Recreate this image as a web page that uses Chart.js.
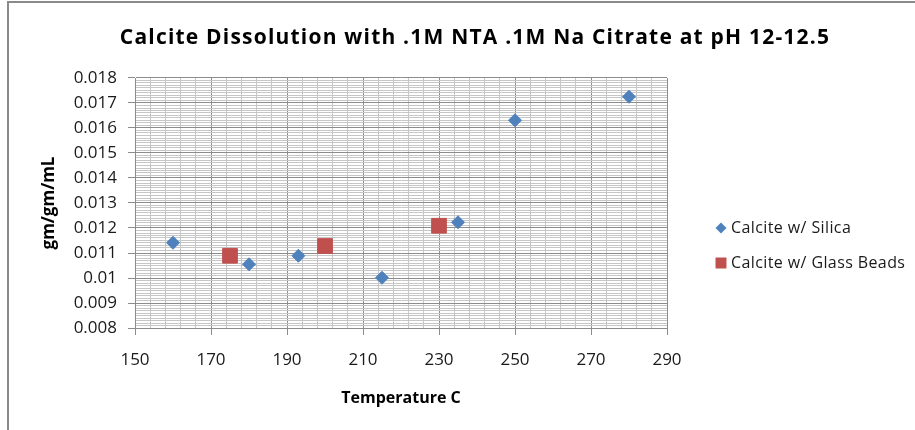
<!DOCTYPE html>
<html>
<head>
<meta charset="utf-8">
<script src="https://cdn.jsdelivr.net/npm/chart.js@4/dist/chart.umd.min.js"></script>
<style>
  html, body { margin: 0; padding: 0; background: #ffffff; }
  #wrap { width: 915px; height: 430px; position: relative; }
</style>
</head>
<body>
<div id="wrap"><canvas id="c" width="915" height="430"></canvas></div>
<script>
// ---- data ----
const chartTitle = 'Calcite Dissolution with .1M NTA .1M Na Citrate at pH 12-12.5';
const xAxisTitle = 'Temperature C';
const yAxisTitle = 'gm/gm/mL';
const seriesNames = ['Calcite w/ Silica', 'Calcite w/ Glass Beads'];
const silicaTemp = [160, 180, 193, 215, 235, 250, 280];
const silicaValue = [0.01141, 0.01055, 0.01089, 0.01001, 0.01223, 0.01631, 0.01725];
const beadsTemp = [175, 200, 230];
const beadsValue = [0.01089, 0.01128, 0.01209];
const xTickLabels = ['150', '170', '190', '210', '230', '250', '270', '290'];
const yTickLabels = ['0.008', '0.009', '0.01', '0.011', '0.012', '0.013', '0.014', '0.015', '0.016', '0.017', '0.018'];
const xMajorStep = 20, xMinorPerMajor = 5;
const yMajorStep = 0.001, yMinorPerMajor = 10;

const blue = '#4F81BD';
const red = '#C0504D';
const majorGrid = '#8c8c8c';
const minorGrid = '#c6c6c6';
const FONT = "'Open Sans', 'DejaVu Sans', sans-serif";

function buildTicks(scale, labels, majorStep, perMajor) {
  const start = parseFloat(labels[0]);
  const ticks = [];
  const n = (labels.length - 1) * perMajor;
  for (let i = 0; i <= n; i++) {
    const v = start + (i * majorStep) / perMajor;
    const isMajor = i % perMajor === 0;
    ticks.push({ value: v, major: isMajor, labelIndex: isMajor ? i / perMajor : -1 });
  }
  scale.ticks = ticks;
}

const framePlugin = {
  id: 'frameTitleLegend',
  beforeDraw(chart) {
    const ctx = chart.ctx;
    ctx.save();
    ctx.fillStyle = '#ffffff';
    ctx.fillRect(0, 0, chart.width, chart.height);
    ctx.fillStyle = '#8a8a8a';
    ctx.fillRect(8, 1, chart.width - 8, 2);
    ctx.fillRect(7, 1, 2, chart.height - 1);
    ctx.restore();
  },
  afterDraw(chart) {
    const ctx = chart.ctx;
    ctx.save();
    // title
    ctx.fillStyle = '#000000';
    ctx.font = "bold 21px " + FONT;
    if ('letterSpacing' in ctx) ctx.letterSpacing = '1.2px';
    ctx.textAlign = 'center';
    ctx.textBaseline = 'alphabetic';
    ctx.fillText(chartTitle, 475, 44);
    // legend
    ctx.font = "16px " + FONT;
    if ('letterSpacing' in ctx) ctx.letterSpacing = '0.4px';
    ctx.textAlign = 'left';
    ctx.textBaseline = 'middle';
    const items = [
      { name: seriesNames[0], color: blue, shape: 'diamond', y: 228 },
      { name: seriesNames[1], color: red, shape: 'square', y: 263 }
    ];
    items.forEach(it => {
      ctx.fillStyle = it.color;
      ctx.beginPath();
      if (it.shape === 'diamond') {
        ctx.moveTo(721, it.y - 5.5);
        ctx.lineTo(726.5, it.y);
        ctx.lineTo(721, it.y + 5.5);
        ctx.lineTo(715.5, it.y);
        ctx.closePath();
      } else {
        ctx.rect(715.5, it.y - 5.5, 11, 11);
      }
      ctx.fill();
      ctx.fillStyle = '#1a1a1a';
      ctx.fillText(it.name, 731, it.y);
    });
    ctx.restore();
  }
};

new Chart(document.getElementById('c'), {
  type: 'scatter',
  data: {
    datasets: [
      {
        label: seriesNames[0],
        data: silicaTemp.map((t, i) => ({ x: t, y: silicaValue[i] })),
        pointStyle: 'rectRot',
        pointRadius: 6.5,
        pointHoverRadius: 6.5,
        backgroundColor: blue,
        borderColor: blue,
        borderWidth: 1
      },
      {
        label: seriesNames[1],
        data: beadsTemp.map((t, i) => ({ x: t, y: beadsValue[i] })),
        pointStyle: 'rect',
        pointRadius: 10.4,
        pointHoverRadius: 10.4,
        backgroundColor: red,
        borderColor: red,
        borderWidth: 1
      }
    ]
  },
  options: {
    responsive: false,
    animation: false,
    events: [],
    layout: { padding: { left: 10, right: 248, top: 78, bottom: 0 } },
    plugins: {
      legend: { display: false },
      title: { display: false },
      tooltip: { enabled: false }
    },
    scales: {
      x: {
        type: 'linear',
        min: 150,
        max: 290,
        afterBuildTicks: s => buildTicks(s, xTickLabels, xMajorStep, xMinorPerMajor),
        afterFit: s => { s.height = 102; },
        ticks: {
          autoSkip: false,
          maxRotation: 0,
          padding: 15,
          color: '#1a1a1a',
          font: { family: FONT, size: 17 },
          callback: function (value, index, ticks) {
            const t = ticks[index];
            return t && t.major ? xTickLabels[t.labelIndex] : '';
          }
        },
        grid: {
          color: c => (c.tick && c.tick.major ? majorGrid : minorGrid),
          tickColor: c => (c.tick && c.tick.major ? majorGrid : 'rgba(0,0,0,0)'),
          tickLength: 7,
          lineWidth: 1
        },
        border: { color: majorGrid },
        title: {
          display: true,
          text: xAxisTitle,
          color: '#000000',
          font: { family: FONT, size: 16, weight: 'bold' },
          padding: { top: 0, bottom: 22 }
        }
      },
      y: {
        type: 'linear',
        min: 0.008,
        max: 0.018,
        afterBuildTicks: s => buildTicks(s, yTickLabels, yMajorStep, yMinorPerMajor),
        afterFit: s => { s.width = 125; },
        ticks: {
          autoSkip: false,
          padding: 11,
          color: '#1a1a1a',
          font: { family: FONT, size: 17 },
          callback: function (value, index, ticks) {
            const t = ticks[index];
            return t && t.major ? yTickLabels[t.labelIndex] : '';
          }
        },
        grid: {
          color: c => (c.tick && c.tick.major ? majorGrid : minorGrid),
          tickColor: c => (c.tick && c.tick.major ? majorGrid : 'rgba(0,0,0,0)'),
          tickLength: 7,
          lineWidth: 1
        },
        border: { color: majorGrid },
        title: {
          display: true,
          text: yAxisTitle,
          color: '#000000',
          font: { family: FONT, size: 17, weight: 'bold' },
          padding: { top: 29, bottom: 0 }
        }
      }
    }
  },
  plugins: [framePlugin]
});
</script>
</body>
</html>
